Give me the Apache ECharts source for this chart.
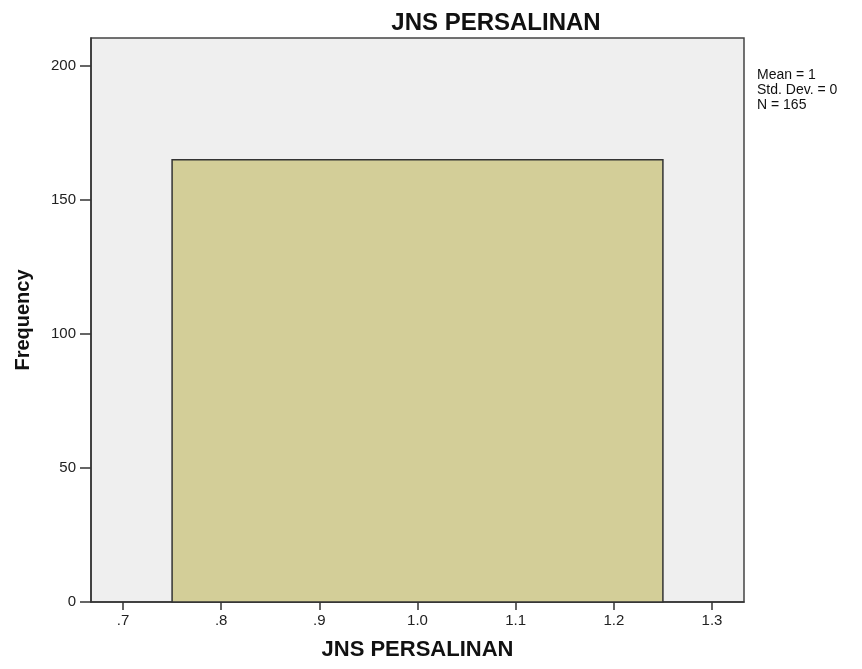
<!DOCTYPE html>
<html><head><meta charset="utf-8">
<script src="https://cdn.jsdelivr.net/npm/echarts@6/dist/echarts.min.js"></script>
<style>html,body{margin:0;padding:0;background:#fff}#c{width:862px;height:669px}</style>
</head><body><div id="c"></div>
<script>
// Data
var binStart = [0.75];
var binEnd = [1.25];
var frequency = [165];
var yTicks = [0, 50, 100, 150, 200];
var xTickLabels = ['.7', '.8', '.9', '1.0', '1.1', '1.2', '1.3'];
var statsLines = ['Mean = 1', 'Std. Dev. = 0', 'N = 165'];
var titleText = 'JNS PERSALINAN';

var chart = echarts.init(document.getElementById('c'));
var barData = binStart.map(function (s, i) { return [s, binEnd[i], frequency[i]]; });
var FONT = '"Liberation Sans", Arial, sans-serif';

chart.setOption({
  animation: false,
  backgroundColor: '#ffffff',
  title: {
    text: titleText, left: 491, top: 6, textAlign: 'center',
    textStyle: { fontFamily: FONT, fontSize: 24, fontWeight: 'bold', color: '#111' }
  },
  graphic: [{
    type: 'text', left: 757, top: 68,
    style: { text: statsLines.join('\n'), font: '14px ' + FONT, fill: '#111', lineHeight: 15 }
  }],
  grid: { left: 91, top: 38, width: 653, height: 564, show: true, backgroundColor: '#efefef', borderColor: '#444', borderWidth: 1.5 },
  xAxis: {
    type: 'value', min: 0.6674, max: 1.3326,
    splitLine: { show: false },
    axisLine: { show: true, lineStyle: { color: '#333', width: 1.5 } },
    axisTick: { show: true, length: 8, lineStyle: { color: '#333', width: 1.5 } },
    axisLabel: {
      margin: 11, fontFamily: FONT, fontSize: 15, color: '#222',
      showMinLabel: false, showMaxLabel: false,
      formatter: function (v) {
        var idx = Math.round((v - 0.7) * 10);
        return xTickLabels[idx] !== undefined ? xTickLabels[idx] : '';
      }
    },
    name: titleText, nameLocation: 'middle', nameGap: 37,
    nameTextStyle: { fontFamily: FONT, fontSize: 22, fontWeight: 'bold', color: '#111' }
  },
  yAxis: {
    type: 'value', min: 0, max: 210.4, interval: 50,
    splitLine: { show: false },
    axisLine: { show: true, lineStyle: { color: '#333', width: 1.5 } },
    axisTick: { show: true, length: 11, lineStyle: { color: '#333', width: 1.5 } },
    axisLabel: {
      margin: 15, fontFamily: FONT, fontSize: 15, color: '#222',
      showMaxLabel: false,
      formatter: function (v) { return yTicks.indexOf(v) >= 0 ? String(v) : ''; }
    },
    name: 'Frequency', nameLocation: 'middle', nameGap: 58, nameRotate: 90,
    nameTextStyle: { fontFamily: FONT, fontSize: 20, fontWeight: 'bold', color: '#111' }
  },
  series: [{
    type: 'custom',
    data: barData,
    encode: { x: [0, 1], y: 2 },
    renderItem: function (params, api) {
      var p0 = api.coord([api.value(0), api.value(2)]);
      var p1 = api.coord([api.value(1), 0]);
      return {
        type: 'rect',
        shape: { x: p0[0], y: p0[1], width: p1[0] - p0[0], height: p1[1] - p0[1] },
        style: { fill: '#d3ce98', stroke: '#333', lineWidth: 1.5 }
      };
    }
  }]
});
</script>
</body></html>
